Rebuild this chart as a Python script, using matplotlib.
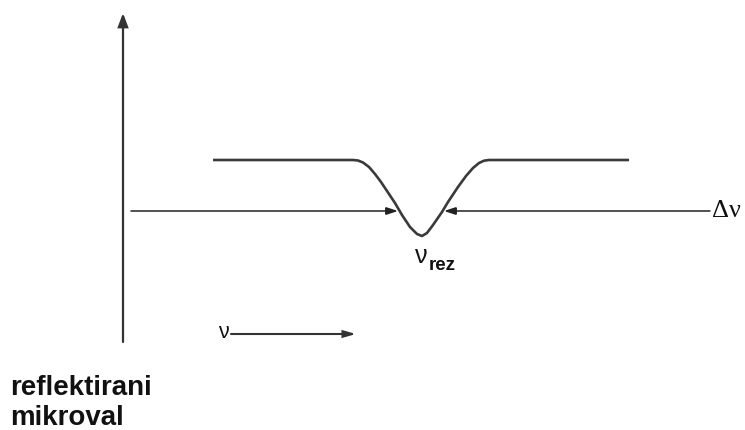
import matplotlib
matplotlib.use("Agg")
import matplotlib.pyplot as plt
from matplotlib.patches import FancyArrowPatch

# Schematic reflection curve (frequency vs reflected microwave level)
freq = [90, 230, 235, 240, 246, 252, 258, 264, 272, 279, 287, 294, 299, 304, 310, 319, 325, 335, 343, 350,
        356, 361, 366, 377, 506]
refl = [182, 182, 181.5, 179.5, 175, 168, 160, 151, 139, 127, 115, 108, 106, 109, 117, 130, 140, 155, 166, 174,
        179, 181.3, 182, 182, 182]

label_y = "reflektirani\nmikroval"
label_x = "ν"
label_res = "ν"
label_res_sub = "rez"
label_width = "Δν"

fig = plt.figure(figsize=(7.45, 4.30), dpi=100)
ax = fig.add_axes([0, 0, 1, 1])
ax.set_xlim(-123, 622)
ax.set_ylim(-88, 342)
ax.axis("off")

def arrow(p0, p1, lw, color, hl, hw):
    a = FancyArrowPatch(p0, p1, arrowstyle=f"-|>,head_length={hl},head_width={hw}",
                        mutation_scale=1, shrinkA=0, shrinkB=0, lw=lw,
                        color=color, joinstyle="miter")
    ax.add_patch(a)

# vertical axis
arrow((0, 0), (0, 329), 1.6, "#333333", 8, 3)

# curve
ax.plot(freq, refl, color="#3a3a3a", lw=1.9, solid_capstyle="butt", solid_joinstyle="round")

# width arrows
arrow((8, 131), (275, 131), 1.1, "#222222", 7, 2.3)
arrow((587, 131), (321, 131), 1.1, "#222222", 7, 2.3)

ax.text(589, 131, label_width, family="Liberation Serif", fontsize=19,
        ha="left", va="center", color="#111111")

# resonance label
ax.text(292, 86, label_res, family="Liberation Sans", fontsize=18,
        ha="left", va="center", color="#111111")
ax.text(306, 77, label_res_sub, family="Liberation Sans", fontsize=13.5,
        fontweight="bold", ha="left", va="center", color="#111111")

# frequency direction arrow
ax.text(95, 10, label_x, family="Liberation Sans", fontsize=15.5,
        ha="left", va="center", color="#111111")
arrow((108, 8), (233, 8), 1.5, "#333333", 7, 2)

# y label
lines = label_y.split("\n")
ax.text(-113, -53, lines[0], family="Liberation Sans", fontsize=20,
        fontweight="bold", ha="left", va="baseline", color="#111111")
ax.text(-113, -83, lines[1], family="Liberation Sans", fontsize=20,
        fontweight="bold", ha="left", va="baseline", color="#111111")

fig.savefig("out.png", dpi=100)
